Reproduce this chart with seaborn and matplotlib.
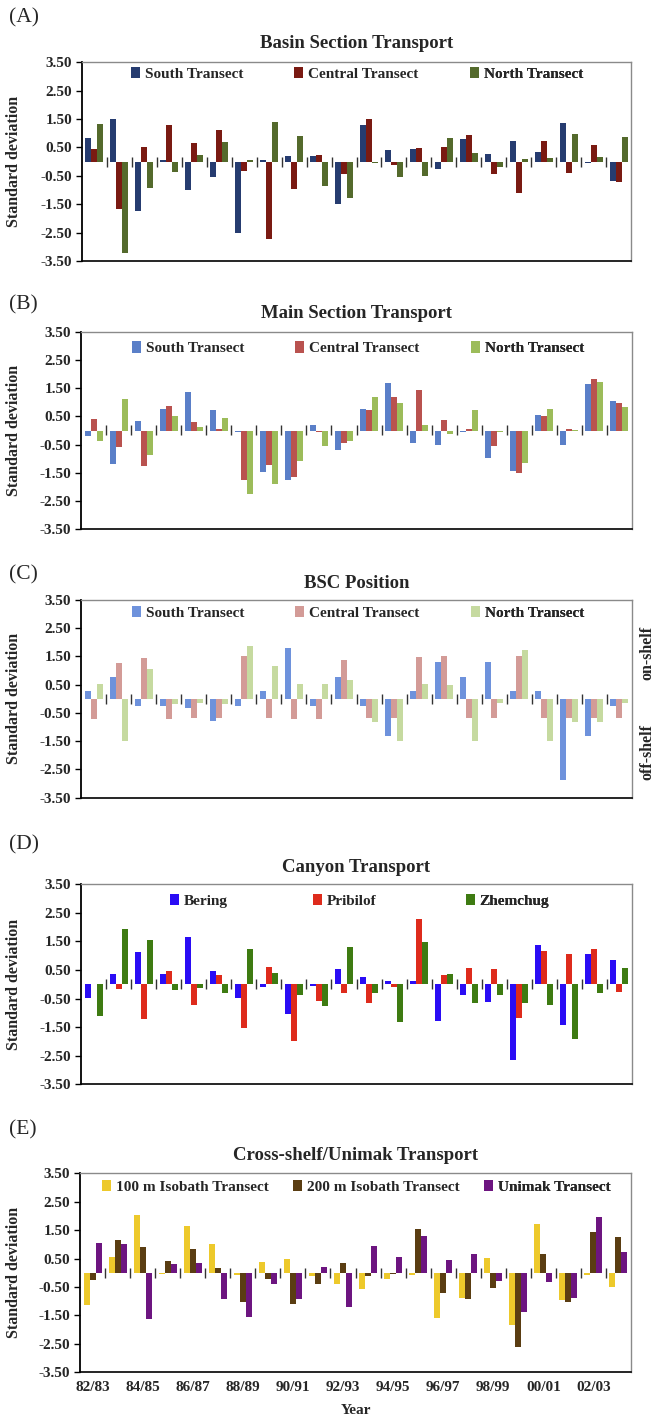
import numpy as np
import pandas as pd
import matplotlib
matplotlib.use("Agg")
import matplotlib.pyplot as plt
from matplotlib.patches import Patch
import seaborn as sns

sns.set_style("ticks")
plt.rcParams['font.family'] = ['Liberation Serif', 'DejaVu Serif']
plt.rcParams['font.weight'] = 'bold'

years = ["82/83", "83/84", "84/85", "85/86", "86/87", "87/88", "88/89", "89/90",
         "90/91", "91/92", "92/93", "93/94", "94/95", "95/96", "96/97", "97/98",
         "98/99", "99/00", "00/01", "01/02", "02/03", "03/04"]

# Panel A: Basin Section Transport
a_south = [0.85, 1.49, -1.74, 0.05, -1.01, -0.54, -2.51, 0.07, 0.20, 0.20, -1.49,
           1.28, 0.41, 0.43, -0.27, 0.79, 0.26, 0.74, 0.35, 1.35, -0.03, -0.69]
a_central = [0.43, -1.66, 0.53, 1.28, 0.65, 1.10, -0.34, -2.71, -0.98, 0.22, -0.43,
             1.52, -0.12, 0.49, 0.52, 0.94, -0.43, -1.09, 0.72, -0.39, 0.58, -0.72]
a_north = [1.32, -3.21, -0.92, -0.36, 0.22, 0.70, 0.05, 1.40, 0.89, -0.85, -1.29,
           -0.03, -0.55, -0.50, 0.83, 0.29, -0.18, 0.11, 0.13, 0.99, 0.15, 0.88]

# Panel B: Main Section Transport
b_south = [-0.19, -1.20, 0.32, 0.77, 1.36, 0.73, -0.05, -1.48, -1.76, 0.19, -0.68,
           0.77, 1.68, -0.45, -0.52, -0.06, -0.96, -1.43, 0.55, -0.53, 1.66, 1.03]
b_central = [0.40, -0.59, -1.24, 0.87, 0.31, 0.05, -1.76, -1.23, -1.63, -0.06, -0.43,
             0.74, 1.19, 1.43, 0.38, 0.06, -0.55, -1.51, 0.52, 0.06, 1.84, 0.97]
b_north = [-0.37, 1.12, -0.87, 0.53, 0.13, 0.44, -2.25, -1.91, -1.07, -0.54, -0.38,
           1.18, 0.97, 0.18, -0.13, 0.74, -0.07, -1.16, 0.77, 0.02, 1.71, 0.84]

# Panel C: BSC Position
c_south = [0.27, 0.79, -0.26, -0.26, -0.31, -0.78, -0.26, 0.27, 1.81, -0.26, 0.79,
           -0.26, -1.31, 0.27, 1.31, 0.77, 1.30, 0.27, 0.27, -2.86, -1.31, -0.26]
c_central = [-0.70, 1.28, 1.46, -0.70, -0.68, -0.68, 1.51, -0.68, -0.71, -0.71, 1.39,
             -0.68, -0.68, 1.49, 1.51, -0.68, -0.68, 1.51, -0.68, -0.68, -0.68, -0.68]
c_north = [0.53, -1.48, 1.05, -0.17, -0.14, -0.17, 1.87, 1.18, 0.53, 0.53, 0.68,
           -0.83, -1.48, 0.53, 0.50, -1.48, -0.14, 1.72, -1.48, -0.83, -0.83, -0.14]

# Panel D: Canyon Transport
d_bering = [-0.49, 0.36, 1.13, 0.35, 1.67, 0.46, -0.49, -0.10, -1.05, -0.07, 0.54,
            0.26, 0.12, 0.13, -1.28, -0.37, -0.62, -2.64, 1.37, -1.42, 1.06, 0.86]
d_pribilof = [0.00, -0.15, -1.23, 0.46, -0.72, 0.33, -1.54, 0.60, -1.98, -0.60, -0.29,
              -0.67, -0.09, 2.28, 0.33, 0.56, 0.54, -1.19, 1.16, 1.06, 1.24, -0.28]
d_zhemchug = [-1.11, 1.95, 1.55, -0.21, -0.14, -0.30, 1.23, 0.39, -0.36, -0.75, 1.31,
              -0.29, -1.32, 1.47, 0.35, -0.65, -0.36, -0.65, -0.74, -1.91, -0.30, 0.57]

# Panel E: Cross-shelf/Unimak Transport
e_100m = [-1.15, 0.55, 2.04, -0.05, 1.66, 1.03, -0.09, 0.39, 0.48, -0.13, -0.38,
          -0.56, -0.21, -0.09, -1.59, -0.87, 0.52, -1.85, 1.70, -0.97, -0.07, -0.50]
e_200m = [-0.26, 1.14, 0.91, 0.43, 0.82, 0.16, -1.01, -0.22, -1.08, -0.41, 0.34,
          -0.11, -0.05, 1.55, -0.72, -0.91, -0.53, -2.60, 0.66, -1.01, 1.45, 1.27]
e_unimak = [1.04, 1.01, -1.63, 0.32, 0.35, -0.93, -1.56, -0.40, -0.93, 0.21, -1.21,
            0.94, 0.55, 1.29, 0.45, 0.66, -0.28, -1.38, -0.32, -0.89, 1.97, 0.72]

x_labels = ["82/83", "84/85", "86/87", "88/89", "90/91", "92/93", "94/95",
            "96/97", "98/99", "00/01", "02/03"]
y_ticks = [-3.5, -2.5, -1.5, -0.5, 0.5, 1.5, 2.5, 3.5]

panels = [
    dict(tag="(A)", title="Basin Section Transport",
         names=["South Transect", "Central Transect", "North Transect"],
         values=[a_south, a_central, a_north],
         colors=["#263C70", "#7A1A12", "#546A2C"]),
    dict(tag="(B)", title="Main Section Transport",
         names=["South Transect", "Central Transect", "North Transect"],
         values=[b_south, b_central, b_north],
         colors=["#5A7FC8", "#B9524F", "#9CBC5A"]),
    dict(tag="(C)", title="BSC Position",
         names=["South Transect", "Central Transect", "North Transect"],
         values=[c_south, c_central, c_north],
         colors=["#6E92DC", "#D39B97", "#C6DAA0"]),
    dict(tag="(D)", title="Canyon Transport",
         names=["Bering", "Pribilof", "Zhemchug"],
         values=[d_bering, d_pribilof, d_zhemchug],
         colors=["#2A0CF5", "#DE2B1C", "#3E7B12"]),
    dict(tag="(E)", title="Cross-shelf/Unimak Transport",
         names=["100 m Isobath Transect", "200 m Isobath Transect", "Unimak Transect"],
         values=[e_100m, e_200m, e_unimak],
         colors=["#EDC92B", "#5A3D12", "#6D1580"]),
]

W, H = 654, 1419
fig = plt.figure(figsize=(W / 100, H / 100), dpi=100)

# axes boxes in pixels: (left, top, right, bottom)
boxes = [(82, 62.3, 631, 261), (81, 331.7, 632, 529.3), (81, 600, 632, 797.7),
         (81, 884.3, 632, 1084.3), (80, 1173.3, 631, 1372.3)]
title_y = [44, 314, 583, 867, 1155]
tag_y = [18, 305, 575, 845, 1130]
# legend entry patch left edges (px) and legend vertical position (axes fraction)
leg_x = [(131, 294, 470), (132, 295, 471), (132, 295, 471), (170, 313, 466), (102, 293, 484)]
leg_y = [0.941, 0.916, 0.936, 0.918, 0.933]

for i, (p, box) in enumerate(zip(panels, boxes)):
    l, t, r, b = box
    ax = fig.add_axes([l / W, 1 - b / H, (r - l) / W, (b - t) / H])
    rows = []
    for name, vals in zip(p["names"], p["values"]):
        for yr, v in zip(years, vals):
            rows.append((yr, name, v))
    df = pd.DataFrame(rows, columns=["year", "series", "value"])
    sns.barplot(data=df, x="year", y="value", hue="series", order=years,
                hue_order=p["names"], palette=p["colors"], width=0.72,
                linewidth=0, saturation=1, legend=False, errorbar=None, ax=ax)
    ax.set_ylim(-3.5, 3.5)
    ax.set_xlim(-0.5, len(years) - 0.5)
    ax.set_yticks(y_ticks)
    ax.set_yticklabels([f"{v:.2f}" for v in y_ticks], fontsize=11, fontweight='bold')
    ax.tick_params(axis='y', direction='out', length=4, width=1, pad=3, color='black')
    ax.set_ylabel("Standard deviation", fontsize=11.5, fontweight='bold')
    ax.yaxis.set_label_coords(-(l - 22) / (r - l), 0.5)
    ax.set_xlabel("")
    if i == 4:
        ax.set_xticks(range(0, len(years), 2))
        ax.set_xticklabels(x_labels, fontsize=11, fontweight='bold')
        ax.tick_params(axis='x', length=0, pad=6)
    else:
        ax.set_xticks([])
    for s in ["top", "right"]:
        ax.spines[s].set_color("#8a8a8a")
        ax.spines[s].set_linewidth(1.0)
    ax.spines["left"].set_color("black")
    ax.spines["left"].set_linewidth(1.3)
    ax.spines["bottom"].set_color("black")
    ax.spines["bottom"].set_linewidth(1.2)

    # zero line axis with crossing ticks at group boundaries
    sec = ax.secondary_xaxis(0.5)
    sec.set_xticks(np.arange(0.5, len(years) - 1, 1.0))
    sec.set_xticklabels([])
    sec.tick_params(direction='inout', length=7, width=1, color='#333333')
    sec.spines['bottom'].set_linewidth(1.3)
    sec.spines['bottom'].set_color('black')
    sec.spines['top'].set_visible(False)

    for k, (name, col) in enumerate(zip(p["names"], p["colors"])):
        fx = (leg_x[i][k] - l) / (r - l)
        lg = ax.legend([Patch(facecolor=col, edgecolor='none')], [name],
                       loc='center left', bbox_to_anchor=(fx, leg_y[i]), frameon=False,
                       prop=dict(family='Liberation Serif', weight='bold', size=11),
                       handlelength=0.6, handleheight=0.75, handletextpad=0.3,
                       borderaxespad=0, borderpad=0)
        ax.add_artist(lg)

    fig.text(((l + r) / 2) / W, 1 - title_y[i] / H, p["title"], ha='center', va='center',
             fontsize=13.5, fontweight='bold')
    fig.text(9 / W, 1 - tag_y[i] / H, p["tag"], ha='left', va='center',
             fontsize=15.5, fontweight='normal')

    if i == 2:
        fig.text(647 / W, 1 - 653 / H, "on-shelf", rotation=90, ha='center', va='center',
                 fontsize=11.5, fontweight='bold')
        fig.text(647 / W, 1 - 752 / H, "off-shelf", rotation=90, ha='center', va='center',
                 fontsize=11.5, fontweight='bold')

fig.text(356 / W, 1 - 1411 / H, "Year", ha='center', va='center', fontsize=11,
         fontweight='bold')

fig.savefig("out.png", dpi=100)
